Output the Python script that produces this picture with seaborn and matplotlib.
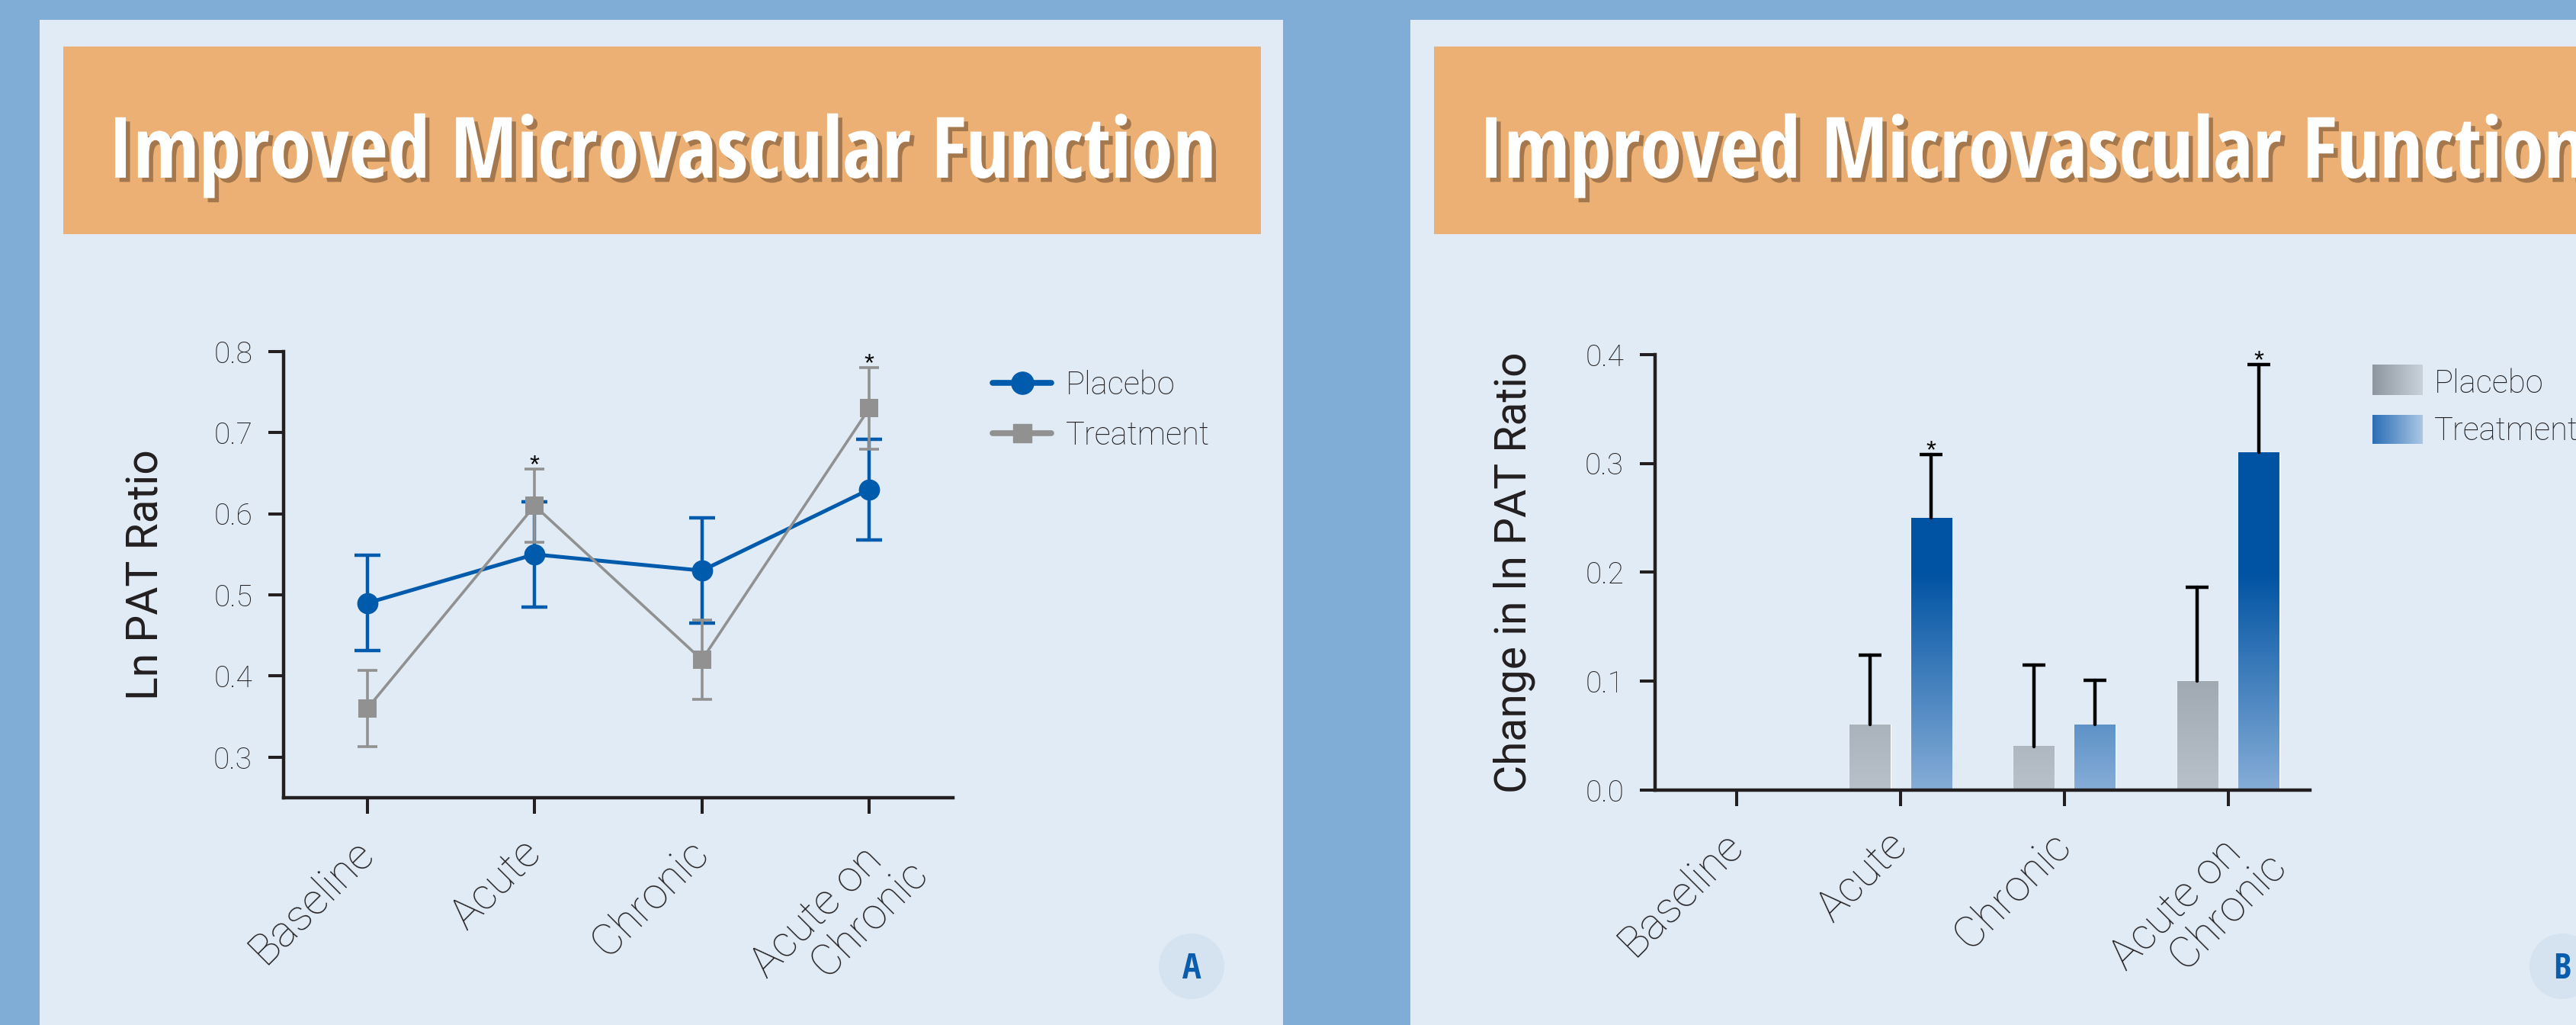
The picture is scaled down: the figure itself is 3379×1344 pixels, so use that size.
import numpy as np
import pandas as pd
import matplotlib
matplotlib.use("Agg")
import matplotlib.pyplot as plt
import matplotlib.patheffects as pe
import seaborn as sns
from matplotlib import font_manager
from matplotlib.colors import LinearSegmentedColormap, Normalize
from matplotlib.lines import Line2D
from matplotlib.patches import Rectangle, Ellipse
from matplotlib.ticker import FormatStrFormatter
from matplotlib.transforms import ScaledTranslation

# ---- data ----
timepoints = ["Baseline", "Acute", "Chronic", "Acute on\nChronic"]
groups = ["Placebo", "Treatment"]

# panel A: Ln PAT ratio, mean and SEM
placebo_ln = [0.49, 0.55, 0.53, 0.63]
placebo_ln_err = [0.059, 0.065, 0.065, 0.062]
treat_ln = [0.36, 0.61, 0.42, 0.73]
treat_ln_err = [0.047, 0.045, 0.049, 0.050]
star_a = ["Acute", "Acute on\nChronic"]

# panel B: change in ln PAT ratio, mean and SEM (upper bar only)
placebo_chg = [0.0, 0.06, 0.04, 0.10]
placebo_chg_err = [0.0, 0.064, 0.075, 0.086]
treat_chg = [0.0, 0.25, 0.06, 0.31]
treat_chg_err = [0.0, 0.058, 0.041, 0.081]
star_b = ["Acute", "Acute on\nChronic"]

title = "Improved Microvascular Function"

OUTER, PANEL, ORANGE, DISC = "#80add5", "#e0ebf5", "#ecb074", "#d5e3f1"
BLUE, GREY, INK = "#005bac", "#919191", "#231f20"

W, H, DPI = 3380, 1344, 100


def fx(px):
    return px / W


def fy(py):
    return 1 - py / H


def box(x0, y0, x1, y1):
    return [fx(x0), fy(y1), fx(x1) - fx(x0), fy(y0) - fy(y1)]


def wnum(w):
    return w if isinstance(w, (int, float)) else font_manager.weight_dict.get(w, 400)


sns.set_theme(style="ticks")
ttf = font_manager.fontManager.ttflist
names = {f.name for f in ttf}
has_light = any(f.name == "Roboto" and wnum(f.weight) == 300 for f in ttf)
BODY = "Roboto" if "Roboto" in names else "Liberation Sans"
BODY_W = "light" if has_light else "normal"
plt.rcParams["font.family"] = [BODY, "DejaVu Sans"]
plt.rcParams["font.weight"] = BODY_W

fig = plt.figure(figsize=(W / DPI, H / DPI), dpi=DPI, facecolor=OUTER)
renderer = fig.canvas.get_renderer()

# headline font: narrowest bold plain sans available (the original uses a condensed face)
bases = ["DejaVu Sans", "Liberation Sans", "Noto Sans", "Roboto", "Open Sans", "Lato", "Inter"]


def usable(name):
    if name in bases:
        return True
    return any(name.startswith(b) for b in bases) and any(k in name for k in ("Condensed", "Narrow", "Cond"))


best, best_w = ("Roboto", "normal"), None
for name, stretch in sorted({(f.name, f.stretch) for f in ttf if wnum(f.weight) >= 600 and usable(f.name)}):
    fp = font_manager.FontProperties(family=name, stretch=stretch, weight="bold", size=100)
    wd = renderer.get_text_width_height_descent(title, fp, False)[0]
    if best_w is None or abs(wd - 1650) < abs(best_w - 1650):
        best, best_w = (name, stretch), wd
HEAD_FAMILY, HEAD_STRETCH = best

# panel cards, orange headers, letter discs
titles = []
for x0, letter in [(52, "A"), (1850, "B")]:
    fig.add_artist(Rectangle((fx(x0), 0), fx(1631), fy(26), transform=fig.transFigure,
                             fc=PANEL, ec="none", zorder=-3))
    fig.add_artist(Rectangle((fx(x0 + 31), fy(307)), fx(1571), fy(61) - fy(307),
                             transform=fig.transFigure, fc=ORANGE, ec="none", zorder=-2))
    fig.add_artist(Ellipse((fx(x0 + 1511), fy(1267)), 86 / W, 86 / H, transform=fig.transFigure,
                           fc=DISC, ec="none", zorder=-2))
    fig.text(fx(x0 + 1511), fy(1283), letter, ha="center", va="baseline", fontsize=33,
             family=HEAD_FAMILY, stretch=HEAD_STRETCH, weight="bold", color="#0a5dad")
    titles.append(fig.text(fx(x0 + 816), fy(233), title, ha="center", va="baseline",
                           fontsize=80, family=HEAD_FAMILY, stretch=HEAD_STRETCH, weight="bold",
                           color="white",
                           path_effects=[pe.withSimplePatchShadow(offset=(4, -4), shadow_rgbFace="#6a4a2c", alpha=0.55)]))

scale = 1453 / titles[0].get_window_extent(renderer).width
for t in titles:
    t.set_fontsize(min(80 * scale, 88))

LAB_FP = font_manager.FontProperties(family=BODY, weight=BODY_W, size=41)


def style_axes(ax, yticks):
    sns.despine(ax=ax)
    for s in ("left", "bottom"):
        ax.spines[s].set_linewidth(3.2)
        ax.spines[s].set_color(INK)
        ax.spines[s].set_capstyle("projecting")
    ax.set_facecolor("none")
    ax.set_yticks(yticks)
    ax.yaxis.set_major_formatter(FormatStrFormatter("%.1f"))
    ax.tick_params(axis="y", direction="out", length=14.5, width=2.9, color=INK,
                   labelcolor=INK, labelsize=28, pad=15)
    ax.tick_params(axis="x", direction="out", length=15, width=2.9, color=INK,
                   labelcolor=INK, labelsize=41, pad=39)
    ax.set_xlabel("")
    ax.set_xticks(range(len(timepoints)))
    labels = ["Baseline", "Acute", "Chronic", "Acute on\n    Chronic"]
    ax.set_xticklabels(labels, rotation=45, ha="right", va="baseline", rotation_mode="anchor")
    shift = ScaledTranslation(10 / DPI, 0, fig.dpi_scale_trans)
    w1 = renderer.get_text_width_height_descent("Acute on", LAB_FP, False)[0]
    w2 = renderer.get_text_width_height_descent("    Chronic", LAB_FP, False)[0]
    h_lp = renderer.get_text_width_height_descent("lp", LAB_FP, False)[1]
    along = max(0.0, w2 - w1)
    perp = 1.05 * h_lp + 10
    dx = (along + perp) * 0.7071 / DPI
    dy = (along - perp) * 0.7071 / DPI
    for lab in ax.get_xticklabels():
        if "\n" in lab.get_text():
            lab.set_multialignment("left")
            lab.set_linespacing(1.05)
            lab.set_transform(lab.get_transform() + shift + ScaledTranslation(dx, dy, fig.dpi_scale_trans))
        else:
            lab.set_transform(lab.get_transform() + shift)


# ---------------- panel A ----------------
dfA = pd.DataFrame({
    "time": timepoints * 2,
    "group": np.repeat(groups, len(timepoints)),
    "ln": placebo_ln + treat_ln,
    "err": placebo_ln_err + treat_ln_err,
})

axA = fig.add_axes(box(372, 461, 1250, 1046))
xs = np.arange(len(timepoints))
specs = {"Placebo": (BLUE, "o", 20, 3.6, 3.2, 12.2), "Treatment": (GREY, "s", 17, 2.6, 2.6, 9.7)}
for z, g in enumerate(groups):
    col, mk, ms, lw, elw, cap = specs[g]
    sub = dfA[dfA["group"] == g]
    axA.errorbar(xs, sub["ln"], yerr=sub["err"], fmt="none", ecolor=col, elinewidth=elw,
                 capsize=cap, capthick=elw, zorder=2 + 2 * z)
    sns.pointplot(data=sub, x="time", y="ln", order=timepoints, color=col, marker=mk,
                  markersize=ms, markeredgewidth=0, linewidth=lw, errorbar=None, ax=axA,
                  zorder=2.5 + 2 * z)
for name in star_a:
    i = timepoints.index(name)
    axA.annotate("*", (i, treat_ln[i] + treat_ln_err[i]), xytext=(0, -3), textcoords="offset points",
                 ha="center", va="baseline", fontsize=24, family="Liberation Sans", weight="normal", color="black")

axA.set_xlim(-0.5, 3.5)
axA.set_ylim(0.25, 0.8)
style_axes(axA, [0.3, 0.4, 0.5, 0.6, 0.7, 0.8])
axA.set_ylabel("Ln PAT Ratio", fontsize=41, color=INK, weight="normal")
axA.yaxis.label.set_va("center")
axA.yaxis.set_label_coords(-0.205, 0.5)

handles = [Line2D([], [], color=BLUE, lw=5.5, marker="o", ms=21, solid_capstyle="round"),
           Line2D([], [], color=GREY, lw=5.5, marker="s", ms=17, solid_capstyle="round")]
leg = axA.legend(handles, groups, loc="upper left", bbox_to_anchor=(fx(1302), fy(485)),
                 bbox_transform=fig.transFigure, frameon=False, fontsize=30, handlelength=1.85,
                 handletextpad=0.45, labelspacing=0.6, borderpad=0, borderaxespad=0)
for t in leg.get_texts():
    t.set_color(INK)

# ---------------- panel B ----------------
dfB = pd.DataFrame({
    "time": timepoints * 2,
    "group": np.repeat(groups, len(timepoints)),
    "change": placebo_chg + treat_chg,
    "err": placebo_chg_err + treat_chg_err,
})

axB = fig.add_axes(box(2171, 465, 3030, 1036))
sns.barplot(data=dfB, x="time", y="change", hue="group", order=timepoints, hue_order=groups,
            palette={"Placebo": "#a7afb8", "Treatment": "#3d7fc0"}, saturation=1,
            width=0.75, gap=1 / 3, errorbar=None, legend=False, ax=axB)

grad = {"Placebo": LinearSegmentedColormap.from_list("pl", ["#b8c0c9", "#8a929b"]),
        "Treatment": LinearSegmentedColormap.from_list("tr", ["#86add7", "#0053a3"])}
norm = Normalize(0, 0.2)
for g, cont in zip(groups, axB.containers):
    sub = dfB[dfB["group"] == g]
    errs = sub["err"].to_numpy()
    cx, tops = [], []
    for bar, e in zip(cont, errs):
        x0, w, h = bar.get_x(), bar.get_width(), bar.get_height()
        cx.append(x0 + w / 2)
        tops.append(h)
        if h <= 0:
            if g == "Placebo":
                bar.set_edgecolor(INK)
                bar.set_linewidth(2)
                bar.set_zorder(3)
            continue
        vals = np.linspace(h, 0, 256)[:, None]
        axB.imshow(vals, cmap=grad[g], norm=norm, extent=(x0, x0 + w, 0, h), aspect="auto",
                   interpolation="bilinear", zorder=bar.get_zorder() + 0.1)
    cx, tops = np.array(cx), np.array(tops)
    keep = errs > 0
    eb = axB.errorbar(cx[keep], tops[keep], yerr=[np.zeros(keep.sum()), errs[keep]], fmt="none",
                      ecolor="black", elinewidth=3.2, capsize=11, capthick=3.2, zorder=4)
    for cl in eb.lines[1]:
        if np.allclose(cl.get_ydata(), tops[keep]):
            cl.remove()
    for lc in eb.lines[2]:
        lc.set_capstyle("round")
    if g == "Treatment":
        for name in star_b:
            i = timepoints.index(name)
            axB.annotate("*", (cx[i], tops[i] + errs[i]), xytext=(0, -3), textcoords="offset points",
                         ha="center", va="baseline", fontsize=24, family="Liberation Sans",
                         weight="normal", color="black")

axB.set_xlim(-0.5, 3.5)
axB.set_ylim(0, 0.4)
style_axes(axB, [0.0, 0.1, 0.2, 0.3, 0.4])
axB.set_ylabel("Change in ln PAT Ratio", fontsize=41, color=INK, weight="normal")
axB.yaxis.label.set_va("center")
axB.yaxis.set_label_coords(-0.215, 0.5)

# legend for panel B with gradient swatches
for (y0, y1, yb), g, cols in [((478, 518, 515), "Placebo", ["#8e969f", "#c9d1da"]),
                              ((544, 582, 577), "Treatment", ["#2b6eb6", "#aac7e4"])]:
    sw = fig.add_axes(box(3112, y0, 3178, y1))
    sw.imshow(np.linspace(0, 1, 128)[None, :], cmap=LinearSegmentedColormap.from_list(g, cols),
              aspect="auto", interpolation="bilinear")
    sw.axis("off")
    fig.text(fx(3193), fy(yb), g, ha="left", va="baseline", fontsize=30, color=INK)

fig.savefig("out.png", dpi=DPI, facecolor=OUTER)
